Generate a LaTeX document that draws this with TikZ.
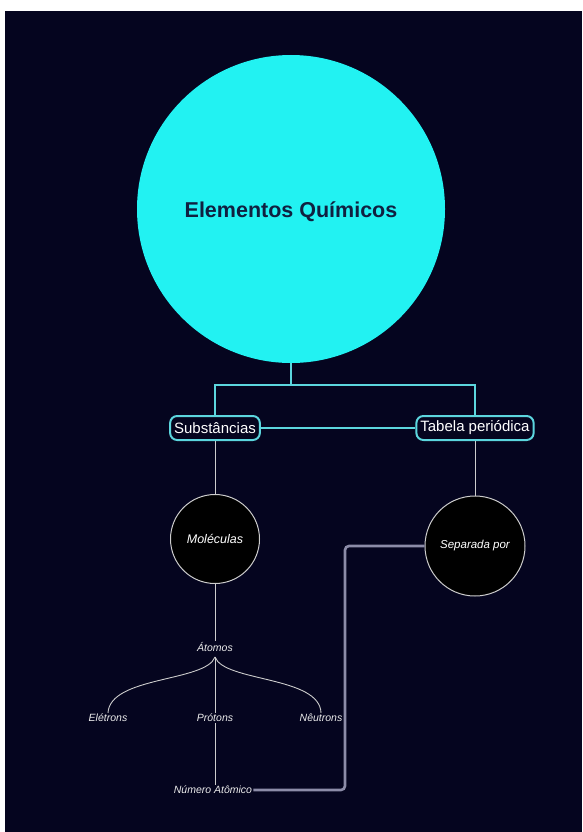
\documentclass[tikz,border=0pt]{standalone}
\usepackage{fontspec}
\setmainfont{Liberation Sans}
\begin{document}
\begin{tikzpicture}[x=1pt,y=-1pt,
  cyanline/.style={draw=linecyan,line width=1.6pt},
  thinline/.style={draw=lightgray!80,line width=0.9pt},
  grayline/.style={draw=pathgray,line width=2.6pt,rounded corners=4pt},
  pill/.style={draw=linecyan,line width=2pt,rounded corners=7pt,fill=navybg,text=white,font=\fontsize{15}{17}\selectfont,inner xsep=4pt,inner ysep=2pt,minimum height=24pt},
  darkcirc/.style={circle,fill=black,draw=lightgray!80,line width=1pt,text=white},
  small/.style={text=white!85!gray,font=\itshape\fontsize{10.5}{12}\selectfont,inner sep=1pt}
]
\definecolor{navybg}{HTML}{05051F}
\definecolor{bigcyan}{HTML}{22F2F2}
\definecolor{linecyan}{HTML}{5CD6DE}
\definecolor{pathgray}{HTML}{8C8CA8}
\definecolor{titletext}{HTML}{102040}
\useasboundingbox (0,0) rectangle (582,832);
\fill[white] (0,0) rectangle (582,832);
\fill[navybg] (5,11) rectangle (582,832);

\node[circle,fill=bigcyan,minimum size=308pt,inner sep=0pt] (main) at (291,209) {};
\node[text=titletext,font=\bfseries\fontsize{21.5}{24}\selectfont] (title) at (291,212) {Elementos Químicos};

\node[pill] (sub) at (215,428) {Substâncias};
\node[pill] (tab) at (475,428) {Tabela periódica};

\coordinate (j) at (291,385);
\draw[cyanline] (main.south) -- (j);
\draw[cyanline] (sub.north) |- (j) -| (tab.north);
\draw[cyanline] (sub.east) -- (tab.west);

\node[darkcirc,minimum size=89pt,inner sep=0pt,font=\itshape\fontsize{12.5}{14}\selectfont] (mol) at (215,539) {Moléculas};
\node[darkcirc,minimum size=100pt,inner sep=0pt,font=\itshape\fontsize{11.5}{13}\selectfont] (sep) at (475,546) {Separada por};

\draw[thinline] (sub.south) -- (mol.north);
\draw[thinline] (tab.south) -- (sep.north);

\node[small] (ato) at (215,647) {Átomos};
\node[small] (ele) at (108,718) {Elétrons};
\node[small] (pro) at (215,718) {Prótons};
\node[small] (neu) at (321,718) {Nêutrons};
\node[small] (num) at (213,790) {Número Atômico};

\draw[thinline] (mol.south) -- (ato.north);
\coordinate (top) at (215,657);
\draw[thinline] (top) .. controls (206,682) and (110,676) .. (ele.north);
\draw[thinline] (top) .. controls (224,682) and (320,676) .. (neu.north);
\draw[thinline] (top) -- (pro.north);
\draw[thinline] (pro.south) -- (pro.south |- num.north);

\draw[grayline] (sep.west) -| (345,790) -- (num.east);
\end{tikzpicture}
\end{document}
